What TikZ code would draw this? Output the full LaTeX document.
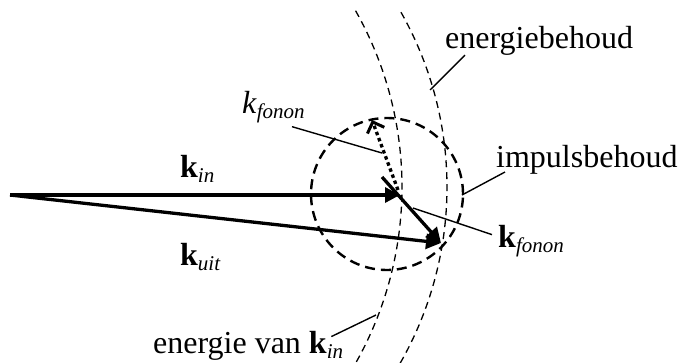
\documentclass[tikz,border=0pt]{standalone}
\usepackage{fontspec}
\setmainfont{Liberation Serif}
\usetikzlibrary{arrows.meta}
\newcommand\kvsub[2]{#1\raisebox{-5pt}{\fontsize{21}{21}\selectfont\itshape #2}}
\begin{document}
\begin{tikzpicture}[x=1pt,y=-1pt,
  lbl/.style={inner sep=0pt, anchor=base west, font=\fontsize{32}{36}\selectfont},
  vec/.style={line width=3.3pt, -{Triangle[length=15pt,width=15pt]}},
  phon/.style={line width=3.3pt, dash pattern=on 3.5pt off 3pt, -{Straight Barb[length=9pt,width=18pt,line width=3pt]}},
  leader/.style={line width=1.4pt},
  edash/.style={line width=1.3pt, dash pattern=on 7pt off 5pt},
  cdash/.style={line width=2.4pt, dash pattern=on 10pt off 6pt}]
\useasboundingbox (0,0) rectangle (678,362);
\clip (0,0) rectangle (678,362);
% energy surfaces
\draw[edash] plot[domain=-29.5:31, samples=80, smooth] ({44+358*cos(\x)},{187+358*sin(\x)});
\draw[edash] plot[domain=-29.5:31, samples=80, smooth] ({92+355*cos(\x)},{187+355*sin(\x)});
% momentum circle
\draw[cdash] (387,194) circle[radius=76pt];
% vectors
\coordinate (O) at (10,195);
\coordinate (Kin) at (400,195);
\coordinate (Kuit) at (441,243);
\coordinate (Fs) at (382,177);
\coordinate (Ps) at (398,190);
\coordinate (Pe) at (372,120);
\draw[vec] (O) -- (Kin);
\draw[vec] (O) -- (Kuit);
\draw[vec] (Fs) -- (Kuit);
\draw[phon] (Ps) -- (Pe);
% labels
\node[lbl] (kin) at (180,177) {\kvsub{\textbf{k}}{in}};
\node[lbl] (kuit) at (180,265) {\kvsub{\textbf{k}}{uit}};
\node[lbl] (kfi) at (242,113) {\kvsub{\textit{k}}{fonon}};
\node[lbl] (kfb) at (498,247) {\kvsub{\textbf{k}}{fonon}};
\node[lbl] (eb) at (445,48) {energiebehoud};
\node[lbl] (ib) at (496,167) {impulsbehoud};
\node[lbl] (ev) at (153,353) {energie van \kvsub{\textbf{k}}{in}};
% leader end points
\coordinate (ebE) at (430,90);
\coordinate (ibE) at (462,195);
\coordinate (kfbE) at (413,208);
\coordinate (kfiE) at (382,153);
\coordinate (evE) at (376,315);
\draw[leader] ([xshift=20pt]eb.south west) -- (ebE);
\draw[leader] ([xshift=9pt,yshift=2pt]ib.south west) -- (ibE);
\draw[leader] ([xshift=-6pt,yshift=6pt]kfb.west) -- (kfbE);
\draw[leader] ([xshift=50pt,yshift=-4pt]kfi.south west) -- (kfiE);
\draw[leader] ([xshift=-12pt,yshift=-6pt]ev.north east) -- (evE);
\end{tikzpicture}
\end{document}
